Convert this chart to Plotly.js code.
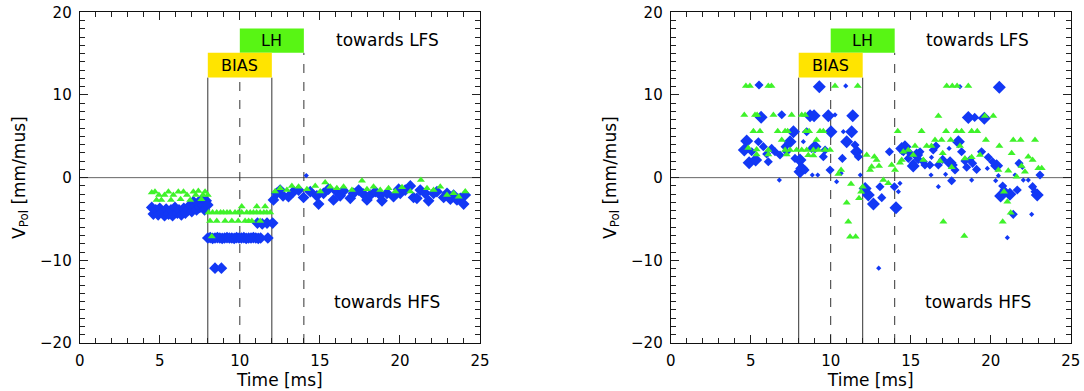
<!DOCTYPE html>
<html><head><meta charset="utf-8">
<script src="https://cdn.plot.ly/plotly-3.0.1.min.js"></script>
<style>html,body{margin:0;padding:0;background:#fff}#chart{width:1084px;height:391px}</style>
</head><body><div id="chart"></div>
<script>
// Event windows (ms)
const biasWindow = [8, 12];
const lhWindow = [10, 14];

// ---------- Left panel ----------
const leftBlue = [
 [4.5,-3.6],[4.6,-4.4],[4.75,-3.9],[4.9,-4.5],[5.0,-3.7],[5.15,-4.2],[5.3,-4.6],[5.4,-3.8],[5.55,-4.4],[5.7,-3.9],
 [5.8,-4.6],[5.95,-3.6],[6.1,-4.3],[6.2,-3.9],[6.35,-4.5],[6.5,-3.7],[6.6,-4.3],[6.75,-3.9],[6.9,-3.3],[7.0,-4.1],
 [7.1,-2.9],[7.2,-3.5],[7.3,-3.9],[7.4,-3.0],[7.5,-3.6],[7.6,-2.7],[7.7,-3.4],[7.8,-3.9],[7.9,-2.8],[8.0,-3.3],
 [8.0,-7.3],[8.15,-7.25],[8.3,-7.35],[8.45,-7.3],[8.6,-7.25],[8.75,-7.3],[8.9,-7.35],[9.05,-7.3],[9.2,-7.25],[9.35,-7.3],
 [9.5,-7.3],[9.65,-7.35],[9.8,-7.25],[9.95,-7.3],[10.1,-7.3],[10.25,-7.25],[10.4,-7.35],[10.55,-7.3],[10.7,-7.3],[10.85,-7.25],
 [11.0,-7.3],[11.15,-7.35],[11.3,-7.3],[11.75,-7.3],[11.1,-5.5],[11.4,-5.6],[11.7,-5.5],[12.05,-5.5],[8.45,-10.95],[8.85,-10.95],
 [12.1,-2.7],[12.3,-1.9],[12.52,-1.5],[12.7,-2.2],[13.04,-2.3],[13.35,-1.7],[13.67,-1.5],[13.98,-2.4],[14.4,-1.7],[14.81,-2.2],
 [14.92,-3.2],[15.23,-1.9],[15.54,-1.4],[15.85,-2.7],[16.06,-1.7],[16.27,-2.2],[16.48,-1.6],[16.9,-2.5],[17.1,-1.9],[17.42,-1.5],
 [17.73,-2.0],[17.94,-2.7],[18.15,-2.1],[18.46,-1.7],[18.77,-2.1],[18.88,-2.8],[19.19,-1.9],[19.6,-2.3],[19.92,-1.4],[20.02,-1.9],
 [20.33,-1.5],[20.65,-1.0],[20.85,-2.4],[21.06,-2.5],[21.27,-1.5],[21.58,-1.9],[21.79,-2.8],[22.1,-1.9],[22.31,-1.7],[22.73,-2.4],
 [22.94,-1.9],[23.15,-2.6],[23.35,-2.1],[23.56,-2.7],[23.77,-2.5],[23.98,-3.2],[24.08,-2.1]
];
const leftBlueSmall = [[14.15,0.25]];
const leftGreen = [
 [4.5,-1.8],[4.7,-1.7],[4.8,-2.7],[4.95,-2.1],[5.1,-2.7],[5.3,-2.1],[5.54,-1.7],[5.7,-2.7],[5.85,-2.1],[6.16,-1.7],
 [6.3,-2.6],[6.48,-1.7],[6.7,-2.1],[6.9,-2.7],[7.1,-1.7],[7.25,-2.1],[7.41,-1.6],[7.6,-2.6],[7.7,-2.1],[7.83,-1.7],[8.0,-2.1],
 [8.05,-4.23],[8.3,-4.23],[8.56,-4.23],[8.8,-4.23],[8.98,-4.23],[9.2,-4.23],[9.39,-4.23],[9.7,-4.23],[9.9,-4.23],[10.12,-4.23],
 [10.43,-4.23],[10.65,-4.23],[10.85,-4.23],[11.05,-4.23],[11.27,-4.23],[11.5,-4.23],[11.68,-4.23],[11.9,-4.23],
 [8.14,-5.23],[8.56,-5.23],[9.08,-5.23],[9.5,-5.23],[9.9,-5.23],[10.33,-5.23],[10.55,-5.23],[10.75,-5.23],[11.27,-5.23],
 [10.12,-3.5],[11.06,-3.5],[11.58,-3.5],[8.25,-7.13],
 [12.2,-1.69],[12.52,-1.29],[12.94,-1.49],[13.25,-1.0],[13.67,-1.09],[14.19,-1.41],[14.71,-1.0],[15.02,-1.69],[15.33,-0.6],[15.65,-1.09],
 [16.06,-1.29],[16.48,-1.09],[17.0,-1.49],[17.63,-0.36],[17.94,-1.41],[18.35,-1.09],[18.77,-1.49],[19.29,-1.29],[19.71,-1.69],[20.13,-1.17],
 [20.65,-1.69],[21.31,-0.28],[21.69,-1.29],[22.1,-1.49],[22.52,-1.09],[22.94,-2.1],[23.35,-1.89],[23.67,-2.3],[24.08,-1.69]
];

// ---------- Right panel ----------
const rightBlueBig = [
 [9.29,11.0],[20.54,10.92],[5.65,7.3],[8.71,7.5],[8.96,7.5],[9.85,7.5],[11.38,7.5],[18.6,7.29],[19.6,7.17],[7.67,5.56],
 [10.02,5.56],[11.31,5.56],[4.75,4.43],[4.6,3.34],[4.9,1.81],[5.31,2.13],[7.46,4.35],[8.08,2.13],[8.19,1.12],[8.08,0.72],
 [9.02,3.75],[11.0,4.35],[11.62,3.14],[12.15,-1.3],[12.35,-2.1],[12.67,-3.19],[14.08,-3.63],[14.44,3.54],[17.98,4.35],[17.46,1.81],
 [15.16,1.4],[15.37,2.74],[14.64,3.75],[20.37,1.45],[21.2,-2.02],[22.91,-2.1],[20.62,-2.22]
];
const rightBlueMid = [
 [5.52,11.2],[6.94,7.6],[8.5,5.56],[5.48,4.35],[5.06,3.14],[5.79,3.75],[6.31,3.54],[6.0,2.86],[6.52,3.14],[6.83,2.74],
 [6.1,1.93],[7.15,3.75],[7.25,3.14],[7.77,2.33],[8.4,0.92],[8.81,3.54],[9.54,2.54],[9.65,3.35],[9.96,0.92],[10.73,2.33],
 [11.52,3.95],[11.73,2.54],[13.08,-1.1],[13.19,-2.42],[13.98,-1.1],[13.67,3.14],[19.0,7.29],[18.18,3.14],[16.58,3.83],[16.41,3.34],
 [17.0,2.21],[17.66,1.53],[18.39,2.01],[18.7,2.13],[18.87,1.73],[19.12,1.0],[19.43,3.14],[19.85,2.46],[20.12,1.93],[18.5,1.25],
 [17.77,0.92],[16.73,1.53],[16.2,1.53],[15.89,1.53],[15.48,2.21],[15.79,1.93],[14.54,3.14],[14.96,2.94],[14.85,2.33],[15.16,1.73],
 [15.58,3.14],[21.77,1.73],[23.08,0.32],[17.56,-0.37],[20.75,-1.01],[20.83,-1.5],[21.66,-1.5],[22.62,-1.09],[22.77,-1.7],[21.41,-4.44]
];
const rightBlueSmall = [
 [10.94,11.1],[18.08,11.0],[10.27,7.6],[10.79,5.56],[8.29,4.35],[8.85,0.32],[9.19,0.32],[10.65,0.52],[11.85,0.32],[6.79,-0.29],
 [10.37,-0.49],[14.23,-1.7],[14.33,-0.69],[17.4,3.54],[16.3,2.46],[19.79,1.12],[21.98,1.25],[16.27,0.32],[17.18,0.4],[18.81,-0.29],
 [20.31,-0.37],[20.48,0.24],[16.73,-1.09],[22.56,-4.44],[21.04,-7.26],[22.04,-0.29],[21.52,0.32],[22.35,-0.29],[13.0,-10.95]
];
const rightGreen = [
 [4.7,11.1],[4.95,11.1],[6.1,11.1],[6.3,11.1],[10.27,11.1],[11.69,11.1],[17.25,11.1],[17.6,11.1],[17.9,11.1],[18.6,11.1],
 [4.6,7.58],[5.27,7.58],[5.4,7.58],[6.42,7.58],[7.56,7.58],[8.19,7.58],[8.4,7.58],[16.73,7.45],[19.64,7.45],[20.16,7.45],
 [5.17,5.6],[5.58,5.6],[6.69,5.6],[7.15,5.6],[7.31,5.6],[8.44,5.6],[8.65,5.6],[9.33,5.6],[9.54,5.6],[14.19,5.6],
 [15.68,5.6],[17.21,5.6],[17.87,5.6],[18.18,5.6],[18.81,5.6],[19.16,5.6],
 [6.94,4.55],[9.12,4.55],[16.52,4.55],[16.93,4.55],[17.5,4.55],[19.7,4.55],[21.41,4.55],[21.87,4.55],[22.77,4.55],
 [4.85,3.6],[5.37,3.4],[6.1,3.35],[7.15,3.35],[7.46,3.35],[7.87,3.35],[8.19,3.35],[8.5,3.35],[8.92,3.35],[9.23,3.35],
 [9.65,3.35],[9.96,3.35],[20.54,3.83],[15.27,3.83],[16.0,3.83],[16.3,3.83],[18.08,3.83],
 [5.37,2.8],[6.1,2.8],[7.25,2.8],[8.6,2.7],[8.92,2.67],
 [12.25,2.74],[12.73,2.54],[12.87,2.13],[12.56,1.33],[13.02,1.4],[12.46,0.92],[13.81,1.53],[14.02,0.92],[14.44,2.13],
 [12.0,-1.09],[11.9,-1.7],[11.77,-2.5],[11.27,-0.77],[11.0,-3.03],[11.1,-5.33],[11.21,-7.14],[11.56,-7.14],[10.65,0.92],[10.48,0.44],
 [13.29,-0.29],[13.6,-0.69],
 [17.04,-5.33],[18.35,-7.06],[21.04,-2.91],[21.25,-4.24],[20.75,-5.33],[20.83,-1.7],[21.1,0.84],[21.31,2.94],[22.35,2.54],[22.62,2.13],
 [22.98,1.13],[23.19,1.13],[21.93,1.4],[21.62,0.12],[22.14,0.72],[19.33,2.74],[18.81,2.46],[18.39,2.33],[17.0,2.94],[17.56,1.25],
 [15.79,2.13],[15.16,2.74],[14.54,3.14],[14.85,3.34],[14.33,1.81],[16.83,2.0],[20.48,0.92]
];
// baseline samples before the measurement window (both panels)
const baseline = [[0,-20.1],[0.25,-20.1],[0.5,-20.1],[0.75,-20.1],[1.0,-20.1],[1.25,-20.1],[1.5,-20.1]];

const BLUE = '#1238f5', GREEN = '#3ff22a';
const FONT = 'DejaVu Sans, Arial, sans-serif';
const xs = a => a.map(p => p[0]);
const ys = a => a.map(p => p[1]);
function tr(pts, sym, size, color, xa, ya) {
  return {x: xs(pts), y: ys(pts), type: 'scatter', mode: 'markers', xaxis: xa, yaxis: ya,
    cliponaxis: false, showlegend: false, hoverinfo: 'x+y',
    marker: {symbol: sym, size: size, color: color, line: {width: 0}}};
}
const data = [
  tr(baseline, 'circle', 3.5, '#000', 'x', 'y'),
  tr(leftBlue, 'diamond', 9, BLUE, 'x', 'y'),
  tr(leftBlueSmall, 'diamond', 4, BLUE, 'x', 'y'),
  tr(leftGreen, 'triangle-up', 7, GREEN, 'x', 'y'),
  tr(baseline, 'circle', 3.5, '#000', 'x2', 'y2'),
  tr(rightBlueBig, 'diamond', 10, BLUE, 'x2', 'y2'),
  tr(rightBlueMid, 'diamond', 7, BLUE, 'x2', 'y2'),
  tr(rightBlueSmall, 'diamond', 4, BLUE, 'x2', 'y2'),
  tr(rightGreen, 'triangle-up', 7, GREEN, 'x2', 'y2')
];

function xax(dom) {
  return {domain: dom, range: [0, 25], dtick: 5, tick0: 0, ticks: 'inside', ticklen: 8, tickcolor: '#222', tickwidth: 1,
    minor: {dtick: 1, ticklen: 5, ticks: 'inside', tickcolor: '#222', tickwidth: 1},
    showline: true, linecolor: '#111', linewidth: 1, mirror: 'allticks', zeroline: false, showgrid: false,
    tickfont: {family: FONT, size: 15, color: '#000'}, ticklabelstandoff: 4,
    title: {text: 'Time [ms]', font: {family: FONT, size: 17, color: '#000'}, standoff: 2}};
}
function yax(dom, anchor) {
  return {domain: dom, anchor: anchor, range: [-20, 20], dtick: 10, tick0: 0, ticks: 'inside', ticklen: 8, tickcolor: '#222', tickwidth: 1,
    minor: {dtick: 1, ticklen: 5, ticks: 'inside', tickcolor: '#222', tickwidth: 1},
    showline: true, linecolor: '#111', linewidth: 1, mirror: 'allticks', zeroline: false, showgrid: false,
    tickfont: {family: FONT, size: 15, color: '#000'}, ticklabelstandoff: 4,
    title: {text: 'V<sub>Pol</sub> [mm/mus]', font: {family: FONT, size: 17, color: '#000'}, standoff: 10}};
}
const yDom = [1 - 343 / 391, 1 - 12.3 / 391];
const layout = {
  width: 1084, height: 391, margin: {l: 0, r: 0, t: 0, b: 0},
  paper_bgcolor: '#fff', plot_bgcolor: '#fff', showlegend: false,
  xaxis: Object.assign(xax([79.7 / 1084, 480 / 1084]), {anchor: 'y'}),
  yaxis: yax(yDom, 'x'),
  xaxis2: Object.assign(xax([670.7 / 1084, 1070.7 / 1084]), {anchor: 'y2'}),
  yaxis2: yax(yDom, 'x2'),
  shapes: [], annotations: []
};
[['x', 'y'], ['x2', 'y2']].forEach(([xa, ya]) => {
  const L = (x0, x1, y0, y1, dash, col) => ({type: 'line', xref: xa, yref: ya, x0, x1, y0, y1, layer: 'below',
    line: {color: col || '#333', width: 1, dash: dash}});
  layout.shapes.push(L(0, 25, 0, 0, 'solid', '#666'));
  layout.shapes.push(L(biasWindow[0], biasWindow[0], -20, 12.1, 'solid'));
  layout.shapes.push(L(biasWindow[1], biasWindow[1], -20, 12.1, 'solid'));
  layout.shapes.push(L(lhWindow[0], lhWindow[0], -20, 12.1, 'dash'));
  layout.shapes.push(L(lhWindow[1], lhWindow[1], -20, 15.1, 'dash'));
  layout.shapes.push({type: 'rect', xref: xa, yref: ya, x0: lhWindow[0], x1: lhWindow[1], y0: 15.1, y1: 18.05,
    fillcolor: '#58f514', line: {width: 0}, layer: 'below'});
  layout.shapes.push({type: 'rect', xref: xa, yref: ya, x0: biasWindow[0], x1: biasWindow[1], y0: 12.1, y1: 15.1,
    fillcolor: '#ffe400', line: {width: 0}, layer: 'below'});
  const A = (x, y, text, size) => ({xref: xa, yref: ya, x, y, text, showarrow: false,
    font: {family: FONT, size: size, color: '#000'}, xanchor: 'center', yanchor: 'middle'});
  layout.annotations.push(A((biasWindow[0] + biasWindow[1]) / 2, 13.6, 'BIAS', 16));
  layout.annotations.push(A((lhWindow[0] + lhWindow[1]) / 2, 16.6, 'LH', 16));
  layout.annotations.push(A(19.2, 16.6, 'towards LFS', 17));
  layout.annotations.push(A(19.2, -15.0, 'towards HFS', 17));
});
Plotly.newPlot('chart', data, layout, {staticPlot: true, displayModeBar: false});
</script></body></html>
